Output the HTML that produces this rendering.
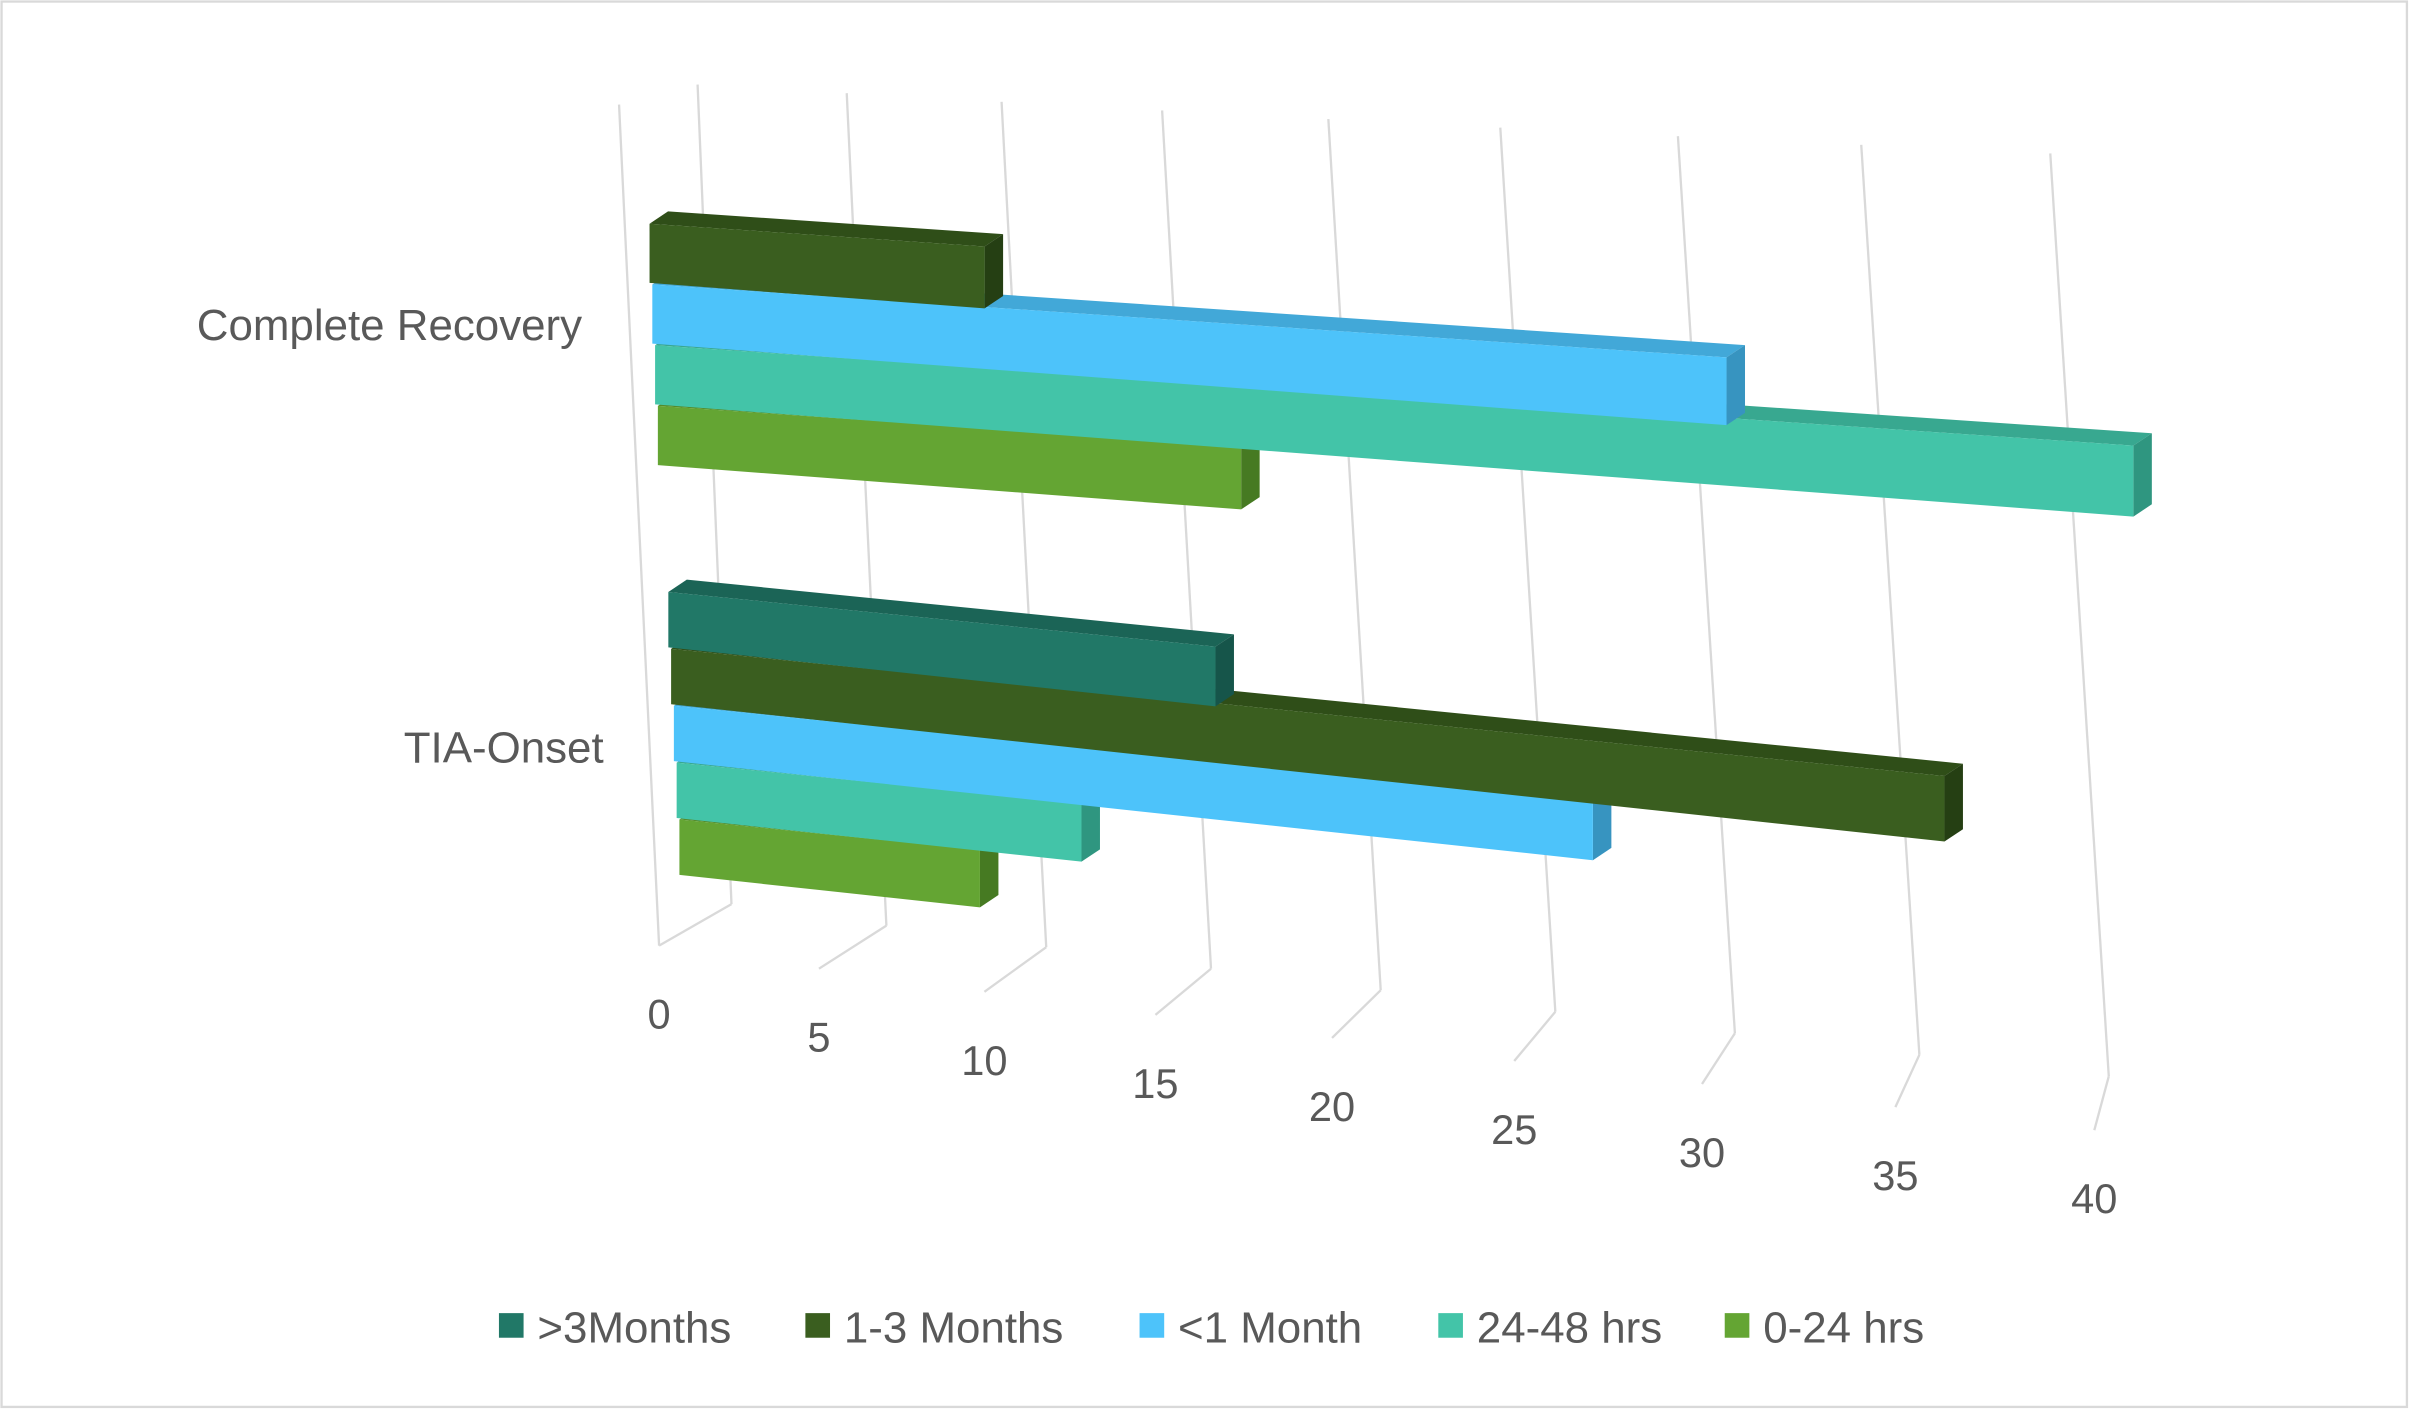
<!DOCTYPE html>
<html><head><meta charset="utf-8"><style>
html,body{margin:0;padding:0;background:#fff;}
svg{display:block;}
text{font-family:"Liberation Sans",sans-serif;fill:#595959;}
</style></head><body>
<svg id="chart" width="2410" height="1410" viewBox="0 0 1565 917" preserveAspectRatio="none" xmlns="http://www.w3.org/2000/svg">
<rect x="1" y="1" width="1562" height="914" fill="#fff" stroke="#d9d9d9" stroke-width="1.5"/>
<g id="grid"></g>
<g id="bars"></g>
<g id="labels"></g>
<g id="legend"></g>
</svg>
<script>
const categories = ["Complete Recovery", "TIA-Onset"];
const seriesNames = [">3Months", "1-3 Months", "<1 Month", "24-48 hrs", "0-24 hrs"];
const s_gt3m = [0, 16];
const s_1to3m = [10, 35];
const s_lt1m = [30, 26];
const s_24to48 = [40, 12];
const s_0to24 = [17, 9];
const tickValues = [0, 5, 10, 15, 20, 25, 30, 35, 40];

const seriesVals = [s_gt3m, s_1to3m, s_lt1m, s_24to48, s_0to24];
const front = ["#217867", "#3a5e1f", "#4dc3fa", "#43c4a8", "#64a533"];
const side = ["#16554a", "#253f13", "#3794c0", "#2f9680", "#467a22"];
const topc = ["#1b6456", "#2f4e18", "#42a8d8", "#38a890", "#548c2a"];
const NS = "http://www.w3.org/2000/svg";
function mk(tag, attrs, parent) { const e = document.createElementNS(NS, tag); for (const k in attrs) e.setAttribute(k, attrs[k]); parent.appendChild(e); return e; }
function q(v, a, b) { return a * v + b * v * v; }
const frontX = v => 428 + q(v, 20.4, 0.0725), frontY = v => 615 + 3 * v;
const backBX = v => 475 + q(v, 19.8, 0.064), backBY = v => 588 + 2.8 * v;
const backTX = v => 453 + q(v, 19, 0.074), backTY = v => 55 + 1.12 * v;
const barLen = v => 1.03 * q(v, 20.4, 0.0725);

const grid = document.getElementById('grid');
const g1 = mk('line', {x1: 402, y1: 68, x2: 428, y2: 615, stroke: '#d9d9d9', 'stroke-width': 1.5}, grid);


tickValues.forEach(v => {
  const a = mk('line', {x1: backTX(v), y1: backTY(v), x2: backBX(v), y2: backBY(v), stroke: '#d9d9d9', 'stroke-width': 1.5}, grid);
  
  
  const b = mk('line', {x1: frontX(v), y1: frontY(v), x2: backBX(v), y2: backBY(v), stroke: '#d9d9d9', 'stroke-width': 1.5}, grid);
  
  
});

const groupLeft = [420, 434];
const groupTop = [106, 385];
const rowH = [39.5, 37];
const slope = [0.068, 0.1];
const bars = document.getElementById('bars');
categories.forEach((c, ci) => {
  for (let si = seriesVals.length - 1; si >= 0; si--) {
    const v = seriesVals[si][ci];
    if (!v) continue;
    const lx = groupLeft[ci] + si * 1.8;
    const ty = groupTop[ci] + si * rowH[ci];
    const len = barLen(v);
    const rx = lx + len;
    const h0 = rowH[ci] - 1, h1 = rowH[ci] - 1 + 0.008 * len;
    const tr = ty + slope[ci] * len;
    const dx = 12, dy = -8;
    const g = mk('g', {}, bars);
    
    
    mk('polygon', {points: `${lx},${ty} ${rx},${tr} ${rx + dx},${tr + dy} ${lx + dx},${ty + dy}`, fill: topc[si]}, g);
    mk('polygon', {points: `${rx},${tr} ${rx + dx},${tr + dy} ${rx + dx},${tr + dy + h1} ${rx},${tr + h1}`, fill: side[si]}, g);
    mk('polygon', {points: `${lx},${ty} ${rx},${tr} ${rx},${tr + h1} ${lx},${ty + h0}`, fill: front[si]}, g);
  }
});

const labels = document.getElementById('labels');
const catPos = [[378, 221], [392, 496]];
categories.forEach((c, i) => {
  const t = mk('text', {x: catPos[i][0], y: catPos[i][1], 'text-anchor': 'end', 'font-size': 28.5}, labels);
  t.textContent = c;
  
  
});
tickValues.forEach(v => {
  const t = mk('text', {x: frontX(v), y: frontY(v) + 54, 'text-anchor': 'middle', 'font-size': 27}, labels);
  t.textContent = v;
  
  
});

const legend = document.getElementById('legend');
const legX = [324, 523, 740, 934, 1120];
seriesNames.forEach((n, i) => {
  const g = mk('g', {}, legend);
  
  
  mk('rect', {x: legX[i], y: 854, width: 16, height: 16, fill: front[i]}, g);
  const t = mk('text', {x: legX[i] + 25, y: 873, 'font-size': 28.5}, g);
  t.textContent = n;
});
</script>
</body></html>
